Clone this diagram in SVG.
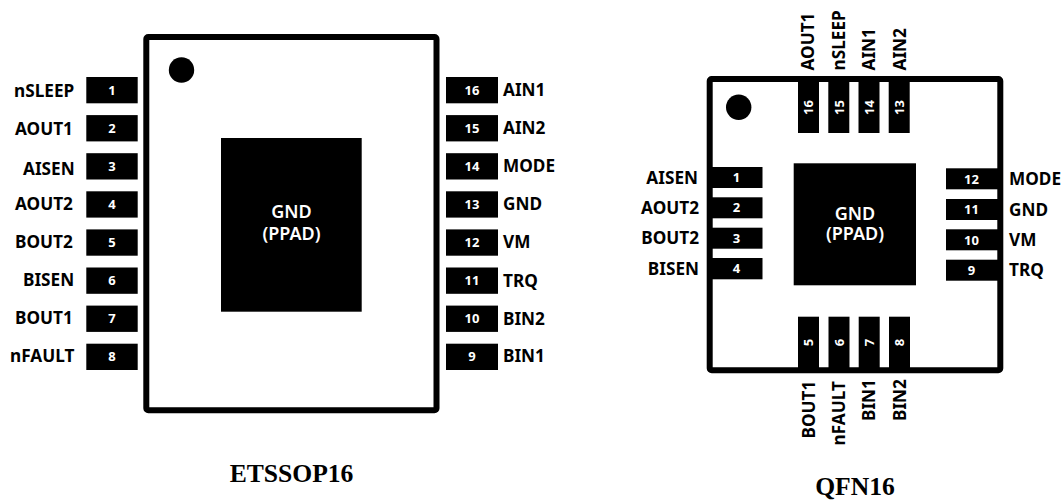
<svg xmlns="http://www.w3.org/2000/svg" width="1064" height="500" viewBox="0 0 1064 500">
<style>
.body{fill:#fff;stroke:#000;stroke-width:6}
.pin,.pad,.dot{fill:#000}
text{font-family:"Noto Sans","Open Sans","DejaVu Sans",sans-serif;font-weight:700;fill:#000}
.lab{font-size:17.2px}
.num{font-size:13px;fill:#fff;text-anchor:middle}
.padt{font-size:18px;fill:#fff;text-anchor:middle;font-weight:600}
.cap{font-family:"Liberation Serif","Times New Roman",serif;font-size:25.6px;text-anchor:middle}
.e{text-anchor:end}
</style>
<g id="etssop16">
<rect id="etssop-body" class="body" x="146.3" y="37" width="290.2" height="373.3" rx="2"/>
<circle id="etssop-dot" class="dot" cx="181.5" cy="70" r="12.7"/>
<g id="etssop-pad"><rect class="pad" x="221" y="138" width="140.7" height="173.7"/><text class="padt"><tspan x="291.5" y="218">GND</tspan><tspan x="291.5" y="240">(PPAD)</tspan></text></g>
<g id="e1"><rect class="pin" x="86.3" y="77" width="51.4" height="26.3"/><text class="num" x="112" y="94.5">1</text><text class="lab" x="14" y="96.5">nSLEEP</text></g>
<g id="e2"><rect class="pin" x="86.3" y="115.1" width="51.4" height="26.3"/><text class="num" x="112" y="132.5">2</text><text class="lab" x="15" y="134.5">AOUT1</text></g>
<g id="e3"><rect class="pin" x="86.3" y="153.2" width="51.4" height="26.3"/><text class="num" x="112" y="170.5">3</text><text class="lab" x="23" y="175">AISEN</text></g>
<g id="e4"><rect class="pin" x="86.3" y="191.3" width="51.4" height="26.3"/><text class="num" x="112" y="208.5">4</text><text class="lab" x="15" y="210">AOUT2</text></g>
<g id="e5"><rect class="pin" x="86.3" y="229.4" width="51.4" height="26.3"/><text class="num" x="112" y="246.5">5</text><text class="lab" x="15" y="248">BOUT2</text></g>
<g id="e6"><rect class="pin" x="86.3" y="267.5" width="51.4" height="26.3"/><text class="num" x="112" y="284.5">6</text><text class="lab" x="23" y="286">BISEN</text></g>
<g id="e7"><rect class="pin" x="86.3" y="305.6" width="51.4" height="26.3"/><text class="num" x="112" y="322.5">7</text><text class="lab" x="15" y="324">BOUT1</text></g>
<g id="e8"><rect class="pin" x="86.3" y="343.7" width="51.4" height="26.3"/><text class="num" x="112" y="360.5">8</text><text class="lab" x="10" y="362">nFAULT</text></g>
<g id="e16"><rect class="pin" x="446" y="77" width="52" height="26.3"/><text class="num" x="472" y="94.5">16</text><text class="lab" x="503" y="95.5">AIN1</text></g>
<g id="e15"><rect class="pin" x="446" y="115.1" width="52" height="26.3"/><text class="num" x="472" y="132.5">15</text><text class="lab" x="503" y="134">AIN2</text></g>
<g id="e14"><rect class="pin" x="446" y="153.2" width="52" height="26.3"/><text class="num" x="472" y="170.5">14</text><text class="lab" x="503" y="172">MODE</text></g>
<g id="e13"><rect class="pin" x="446" y="191.3" width="52" height="26.3"/><text class="num" x="472" y="208.5">13</text><text class="lab" x="503" y="210">GND</text></g>
<g id="e12"><rect class="pin" x="446" y="229.4" width="52" height="26.3"/><text class="num" x="472" y="246.5">12</text><text class="lab" x="503" y="248">VM</text></g>
<g id="e11"><rect class="pin" x="446" y="267.5" width="52" height="26.3"/><text class="num" x="472" y="284.5">11</text><text class="lab" x="503" y="287">TRQ</text></g>
<g id="e10"><rect class="pin" x="446" y="305.6" width="52" height="26.3"/><text class="num" x="472" y="322.5">10</text><text class="lab" x="503" y="325">BIN2</text></g>
<g id="e9"><rect class="pin" x="446" y="343.7" width="52" height="26.3"/><text class="num" x="472" y="360.5">9</text><text class="lab" x="503" y="362">BIN1</text></g>
<text class="cap" x="291.5" y="481.5">ETSSOP16</text>
</g>
<g id="qfn16">
<rect id="qfn-body" class="body" x="709.7" y="79" width="290.6" height="291.3" rx="2"/>
<circle id="qfn-dot" class="dot" cx="738.7" cy="107.3" r="12.7"/>
<g id="qfn-pad"><rect class="pad" x="793.7" y="163.3" width="122.3" height="122"/><text class="padt"><tspan x="855" y="220">GND</tspan><tspan x="855" y="240">(PPAD)</tspan></text></g>
<g id="q1"><rect class="pin" x="710" y="167" width="52.5" height="21"/><text class="num" x="736.5" y="182">1</text><text class="lab e" x="698" y="184">AISEN</text></g>
<g id="q2"><rect class="pin" x="710" y="197.3" width="52.5" height="21"/><text class="num" x="736.5" y="212">2</text><text class="lab e" x="699" y="214">AOUT2</text></g>
<g id="q3"><rect class="pin" x="710" y="227.7" width="52.5" height="21"/><text class="num" x="736.5" y="242.5">3</text><text class="lab e" x="699" y="244">BOUT2</text></g>
<g id="q4"><rect class="pin" x="710" y="258" width="52.5" height="21.3"/><text class="num" x="736.5" y="273">4</text><text class="lab e" x="699" y="274.5">BISEN</text></g>
<g id="q12"><rect class="pin" x="946" y="168.3" width="54" height="21"/><text class="num" x="971.5" y="183.5">12</text><text class="lab" x="1009" y="185">MODE</text></g>
<g id="q11"><rect class="pin" x="946" y="199" width="54" height="21"/><text class="num" x="971.5" y="214">11</text><text class="lab" x="1009" y="215.5">GND</text></g>
<g id="q10"><rect class="pin" x="946" y="229.3" width="54" height="21"/><text class="num" x="971.5" y="244.5">10</text><text class="lab" x="1009" y="245.5">VM</text></g>
<g id="q9"><rect class="pin" x="946" y="259.7" width="54" height="21"/><text class="num" x="971.5" y="274.5">9</text><text class="lab" x="1009" y="276">TRQ</text></g>
<g id="q16"><rect class="pin" x="798" y="79" width="21" height="54"/><text class="num" transform="translate(813,107.5) rotate(-90)">16</text><text class="lab" transform="translate(814,70.5) rotate(-90)">AOUT1</text></g>
<g id="q15"><rect class="pin" x="828.3" y="79" width="21" height="54"/><text class="num" transform="translate(843.5,107.5) rotate(-90)">15</text><text class="lab" transform="translate(845,70.5) rotate(-90)">nSLEEP</text></g>
<g id="q14"><rect class="pin" x="858.5" y="79" width="21" height="54"/><text class="num" transform="translate(873.5,107.5) rotate(-90)">14</text><text class="lab" transform="translate(874.5,70.5) rotate(-90)">AIN1</text></g>
<g id="q13"><rect class="pin" x="888.7" y="79" width="21" height="54"/><text class="num" transform="translate(904,107.5) rotate(-90)">13</text><text class="lab" transform="translate(905.5,70.5) rotate(-90)">AIN2</text></g>
<g id="q5"><rect class="pin" x="798" y="316.7" width="21" height="54"/><text class="num" transform="translate(813,342.5) rotate(-90)">5</text><text class="lab" transform="translate(814.5,438.5) rotate(-90)">BOUT1</text></g>
<g id="q6"><rect class="pin" x="828.5" y="316.7" width="21" height="54"/><text class="num" transform="translate(843.5,342.5) rotate(-90)">6</text><text class="lab" transform="translate(845,445.5) rotate(-90)">nFAULT</text></g>
<g id="q7"><rect class="pin" x="858.7" y="316.7" width="21" height="54"/><text class="num" transform="translate(873.5,342.5) rotate(-90)">7</text><text class="lab" transform="translate(875,421) rotate(-90)">BIN1</text></g>
<g id="q8"><rect class="pin" x="889" y="316.7" width="21" height="54"/><text class="num" transform="translate(904,342.5) rotate(-90)">8</text><text class="lab" transform="translate(906,421) rotate(-90)">BIN2</text></g>
<text class="cap" x="855" y="494.5">QFN16</text>
</g>
</svg>
